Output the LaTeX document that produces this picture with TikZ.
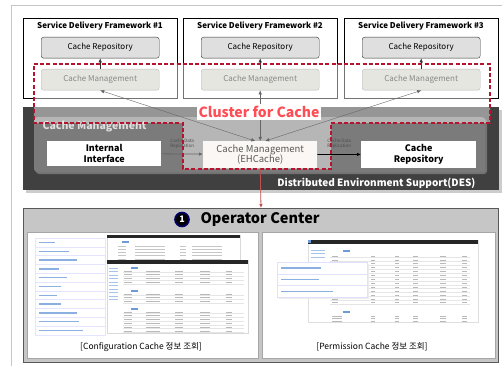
\documentclass[tikz,border=0pt]{standalone}
\usepackage{fontspec}
\setmainfont{Noto Sans CJK KR}
\usepackage{tikz}
\usetikzlibrary{arrows.meta,positioning}
\definecolor{desdark}{HTML}{404040}
\definecolor{panelgray}{HTML}{7B7B7B}
\definecolor{mgmtfill}{HTML}{E6E6E1}
\definecolor{clusterred}{HTML}{B5142F}
\definecolor{labelred}{HTML}{FF4D55}
\definecolor{linkred}{HTML}{C0504D}
\definecolor{menublue}{HTML}{6E9BD8}
\definecolor{opgray}{HTML}{C6C6C6}

\begin{document}
\begin{tikzpicture}[x=1pt,y=-1pt,
  box/.style={draw,anchor=north west,rounded corners=2.5pt},
  flatbox/.style={anchor=north west,fill=white,align=center},
  repl/.style={font=\fontsize{4.5}{5}\selectfont,align=center,text=black!70}]
 \useasboundingbox (0,0) rectangle (502,366);
 \draw[gray!45,line width=1pt] (11,366) -- (11,6) -- (502,6);

 % service delivery frameworks
 \foreach \i/\x in {1/23,2/183,3/344}{
  \node[draw,anchor=north west,fill=white,minimum width=154pt,minimum height=80pt] (sdf\i) at (\x,18) {};
  \node[font=\bfseries\fontsize{8}{8}\selectfont] (sdft\i) at (\x+77,26) {Service Delivery Framework \#\i};
  \node[box,fill=gray!25,draw=black!80,minimum width=118pt,minimum height=21pt,font=\fontsize{8}{8}\selectfont] (repo\i) at (\x+18,37) {Cache Repository};
 }

 % DES
 \fill[gray!40] (26,110) rectangle (502,193);
 \node[anchor=north west,fill=desdark,minimum width=476pt,minimum height=83pt] (des) at (23,107) {};
 \fill[black!55,rounded corners=3pt] (36,119) rectangle (487,174);
 \node[anchor=north west,fill=panelgray,rounded corners=3pt,minimum width=451pt,minimum height=55pt] (cmpanel) at (34,117) {};
 \node[anchor=west,text=gray!25,font=\bfseries\fontsize{10.5}{11}\selectfont] (cmlabel) at (39,127) {Cache Management};
 \node[anchor=east,text=white,font=\bfseries\fontsize{10}{10}\selectfont] (deslabel) at (479,183) {Distributed Environment Support(DES)};

 % cluster overlay
 \fill[white,opacity=0.45] (34,64) -- (490,64) -- (490,123) -- (331,123) -- (331,169) -- (183,169) -- (183,123) -- (34,123) -- cycle;

 \foreach \i/\x in {1/23,2/183,3/344}{
  \node[box,fill=mgmtfill,draw=gray!55,text=gray!95,minimum width=118pt,minimum height=21pt,font=\fontsize{8}{8}\selectfont] (mgmt\i) at (\x+18,69) {Cache Management};
  \draw[-{Latex[length=4pt,width=3.5pt]},black!80] (mgmt\i) -- (repo\i);
 }
 \node[flatbox,minimum width=114pt,minimum height=24pt,font=\bfseries\fontsize{9}{10.5}\selectfont] (iif) at (47,141) {Internal\\Interface};
 \node[flatbox,fill=white!94!brown,minimum width=114pt,minimum height=24pt,text=black!65,font=\fontsize{9.5}{10.5}\selectfont] (ehc) at (203,141) {Cache Management\\(EHCache)};
 \node[flatbox,minimum width=115pt,minimum height=24pt,font=\bfseries\fontsize{9}{10.5}\selectfont] (crepo) at (361,141) {Cache\\Repository};

 \draw[-{Latex[length=4pt,width=3.5pt]},black!60,line width=0.8pt] (iif) -- node[repl,above=2pt] (repl1) {Cache Data\\Replication} (ehc);
 \draw[-{Latex[length=4pt,width=3.5pt]},black,line width=0.8pt] (ehc) -- node[repl,above=2pt] (repl2) {Cache Data\\Replication} (crepo);

 \draw[{Latex[length=4pt,width=3.5pt]}-{Latex[length=4pt,width=3.5pt]},black!60] (mgmt1.south) -- ([xshift=-5pt]ehc.north);
 \draw[{Latex[length=4pt,width=3.5pt]}-{Latex[length=4pt,width=3.5pt]},black!60] (mgmt2.south) -- (ehc.north);
 \draw[{Latex[length=4pt,width=3.5pt]}-{Latex[length=4pt,width=3.5pt]},black!60] (mgmt3.south) -- ([xshift=5pt]ehc.north);

 % cluster border and label
 \draw[clusterred,line width=1.6pt,dash pattern=on 4pt off 2.2pt] (34,64) -- (490,64) -- (490,123) -- (331,123) -- (331,169) -- (183,169) -- (183,123) -- (34,123) -- cycle;
 \node[fill=white,text=labelred,inner sep=2pt,font=\bfseries\fontsize{14}{14}\selectfont] (clabel) at (259,112) {Cluster for Cache};

 % operator center
 \node[draw=black!65,line width=1pt,anchor=north west,fill=opgray,minimum width=475pt,minimum height=154pt] (opc) at (23,208) {};
 \draw[-{Latex[length=4pt,width=3.5pt]},linkred,line width=0.8pt] (ehc.south) -- (opc.north);
 \node[circle,fill=black,draw=blue!40!black,line width=1.6pt,text=white,inner sep=0pt,minimum size=14pt,font=\bfseries\fontsize{9}{9}\selectfont] (opnum) at (182,219.5) {1};
 \node[anchor=west,font=\bfseries\fontsize{14.5}{15}\selectfont] (optitle) at (197,219.5) {Operator Center};

 \node[anchor=north west,draw=gray!70,fill=white,minimum width=231pt,minimum height=126pt] (cfgpanel) at (27,232) {};
 \node[anchor=north west,draw=gray!70,fill=white,minimum width=233pt,minimum height=126pt] (perpanel) at (262,232) {};

 % configuration cache screenshot
 \foreach \k/\w in {0/16,1/30,2/38,3/20,4/28,5/22,6/18,7/22,8/38,9/40,10/44}{
  \draw[blue!10,fill=white] (35,238+\k*8.8) rectangle (105,246.8+\k*8.8);
  \draw[menublue!80,line width=1.4pt] (39,242.4+\k*8.8) -- ++(\w,0);
 }
 \draw[gray!30,fill=white] (107,235) rectangle (240,262);
 \fill[black!85] (107,235) rectangle (240,237.5);
 \fill[menublue] (122,241) rectangle (129,243);
 \foreach \r in {0,...,4}{
  \draw[gray!45,line width=0.6pt] (118,246+\r*3.2) -- ++(8,0) (135,246+\r*3.2) -- ++(30,0) (180,246+\r*3.2) -- ++(6,0) (192,246+\r*3.2) -- ++(30,0);
 }
 \draw[gray!30,fill=white] (107,260) rectangle (248,333);
 \fill[black!85] (107,260) rectangle (248,263.5);
 \foreach \r in {0,...,9} \draw[menublue!60,line width=0.6pt] (109,268+\r*3.5) -- ++(9,0);
 \foreach \t/\n in {267/4,290/3,308/6}{
  \fill[menublue] (131,\t) rectangle (138,\t+2);
  \foreach \r in {1,...,\n}{
   \draw[gray!20,line width=0.3pt] (123,\t+\r*3.8+1.5) -- (244,\t+\r*3.8+1.5);
   \draw[gray!55,line width=0.6pt] (124,\t+\r*3.8) -- ++(8,0) (146,\t+\r*3.8) -- ++(14,0) (175,\t+\r*3.8) -- ++(8,0) (200,\t+\r*3.8) -- ++(10,0) (226,\t+\r*3.8) -- ++(6,0);
  }
 }
 \node[font=\fontsize{8.5}{9}\selectfont] (cfgcap) at (141,347) {[Configuration Cache 정보 조회]};

 % permission cache screenshot
 \draw[gray!25,fill=white] (308,240) rectangle (478,322);
 \fill[black!85] (308,240) rectangle (478,244);
 \fill[menublue] (308,240) rectangle (311,243);
 \foreach \r in {0,...,2} \draw[menublue!60,line width=0.6pt] (311,250+\r*3.5) -- ++(14,0);
 \fill[menublue] (343,250) rectangle (350,252);
 \foreach \r in {1,...,13}{
  \draw[gray!20,line width=0.3pt] (330,252+\r*3.9+1.5) -- (470,252+\r*3.9+1.5);
  \draw[gray!55,line width=0.6pt] (332,252+\r*3.9) -- ++(6,0) (371,252+\r*3.9) -- ++(4,0) (395,252+\r*3.9) -- ++(4,0) (413,252+\r*3.9) -- ++(5,0) (440,252+\r*3.9) -- ++(6,0) (462,252+\r*3.9) -- ++(5,0);
 }
 \fill[menublue] (343,311) rectangle (350,313);
 \foreach \r in {1,...,3}{
  \draw[gray!55,line width=0.6pt] (332,313+\r*2.8) -- ++(10,0) (371,313+\r*2.8) -- ++(4,0) (395,313+\r*2.8) -- ++(4,0) (413,313+\r*2.8) -- ++(5,0) (440,313+\r*2.8) -- ++(6,0) (462,313+\r*2.8) -- ++(5,0);
 }
 \fill[gray!15] (279,264) rectangle (369,299);
 \foreach \k/\w in {0/40,1/38,2/52}{
  \draw[blue!12,fill=white] (277,262+\k*11.7) rectangle (367,273.7+\k*11.7);
  \draw[menublue!80,line width=1.4pt] (281,267.8+\k*11.7) -- ++(\w,0);
 }
 \node[font=\fontsize{8.5}{9}\selectfont] (percap) at (372,347) {[Permission Cache 정보 조회]};
\end{tikzpicture}
\end{document}
